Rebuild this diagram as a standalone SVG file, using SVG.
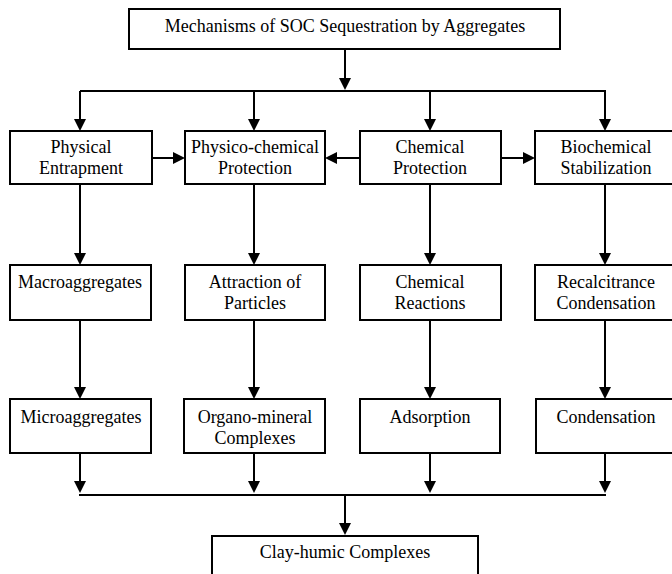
<svg xmlns="http://www.w3.org/2000/svg" width="672" height="574" viewBox="0 0 672 574">
<style>
.box{fill:#fff;stroke:#000;stroke-width:2}
text{font-family:'Liberation Serif','Times New Roman',Times,serif;font-size:18px;fill:#000;text-anchor:middle}
.ln{fill:none;stroke:#000;stroke-width:2}
.ar{fill:none;stroke:#000;stroke-width:2;marker-end:url(#ah)}
</style>
<defs>
<marker id="ah" viewBox="0 0 12 12" refX="2" refY="6" markerWidth="12" markerHeight="12" markerUnits="userSpaceOnUse" orient="auto">
<path d="M0,0 L12,6 L0,12 z" fill="#000"/>
</marker>
</defs>
<rect width="672" height="574" fill="#fff"/>
<g id="connectors">
<path class="ar" d="M345,49 V80"/>
<path class="ln" d="M80,91 H606"/>
<path class="ar" d="M80,91 V121"/>
<path class="ar" d="M254,91 V121"/>
<path class="ar" d="M430,91 V121"/>
<path class="ar" d="M605,91 V121"/>
<path class="ar" d="M152,158 H175"/>
<path class="ar" d="M360,158 H335"/>
<path class="ar" d="M501,158 H525"/>
<path class="ar" d="M80,184 V255"/>
<path class="ar" d="M254,184 V255"/>
<path class="ar" d="M430,184 V255"/>
<path class="ar" d="M605,184 V255"/>
<path class="ar" d="M80,320 V389"/>
<path class="ar" d="M254,320 V389"/>
<path class="ar" d="M430,320 V389"/>
<path class="ar" d="M605,320 V389"/>
<path class="ar" d="M80,453 V483"/>
<path class="ar" d="M254,453 V483"/>
<path class="ar" d="M430,453 V483"/>
<path class="ar" d="M605,453 V483"/>
<path class="ln" d="M79,495 H606"/>
<path class="ar" d="M345,495 V525"/>
</g>
<g font-family="Liberation Serif, Times New Roman, serif" font-size="18">
<g id="n-top"><rect class="box" x="129" y="9" width="431" height="40"/><text x="345" y="32">Mechanisms of SOC Sequestration by Aggregates</text></g>
<g id="n-physical"><rect class="box" x="10" y="131" width="142" height="53"/><text x="81" y="153">Physical</text><text x="81" y="174">Entrapment</text></g>
<g id="n-physchem"><rect class="box" x="185" y="131" width="140" height="53"/><text x="255" y="153">Physico-chemical</text><text x="255" y="174">Protection</text></g>
<g id="n-chemical"><rect class="box" x="360" y="131" width="141" height="53"/><text x="430" y="153">Chemical</text><text x="430" y="174">Protection</text></g>
<g id="n-biochem"><rect class="box" x="535" y="131" width="142" height="53"/><text x="606" y="153">Biochemical</text><text x="606" y="174">Stabilization</text></g>
<g id="n-macro"><rect class="box" x="10" y="265" width="141" height="55"/><text x="80" y="288">Macroaggregates</text></g>
<g id="n-attraction"><rect class="box" x="185" y="265" width="140" height="55"/><text x="255" y="288">Attraction of</text><text x="255" y="309">Particles</text></g>
<g id="n-reactions"><rect class="box" x="360" y="265" width="141" height="55"/><text x="430" y="288">Chemical</text><text x="430" y="309">Reactions</text></g>
<g id="n-recalc"><rect class="box" x="535" y="265" width="142" height="55"/><text x="606" y="288">Recalcitrance</text><text x="606" y="309">Condensation</text></g>
<g id="n-micro"><rect class="box" x="10" y="399" width="141" height="54"/><text x="81" y="423">Microaggregates</text></g>
<g id="n-organo"><rect class="box" x="184" y="399" width="141" height="54"/><text x="255" y="423">Organo-mineral</text><text x="255" y="444">Complexes</text></g>
<g id="n-adsorption"><rect class="box" x="360" y="399" width="140" height="54"/><text x="430" y="423">Adsorption</text></g>
<g id="n-condensation"><rect class="box" x="536" y="399" width="141" height="54"/><text x="606" y="423">Condensation</text></g>
<g id="n-clay"><rect class="box" x="212" y="536" width="266" height="46"/><text x="345" y="558">Clay-humic Complexes</text></g>
</g>
</svg>
